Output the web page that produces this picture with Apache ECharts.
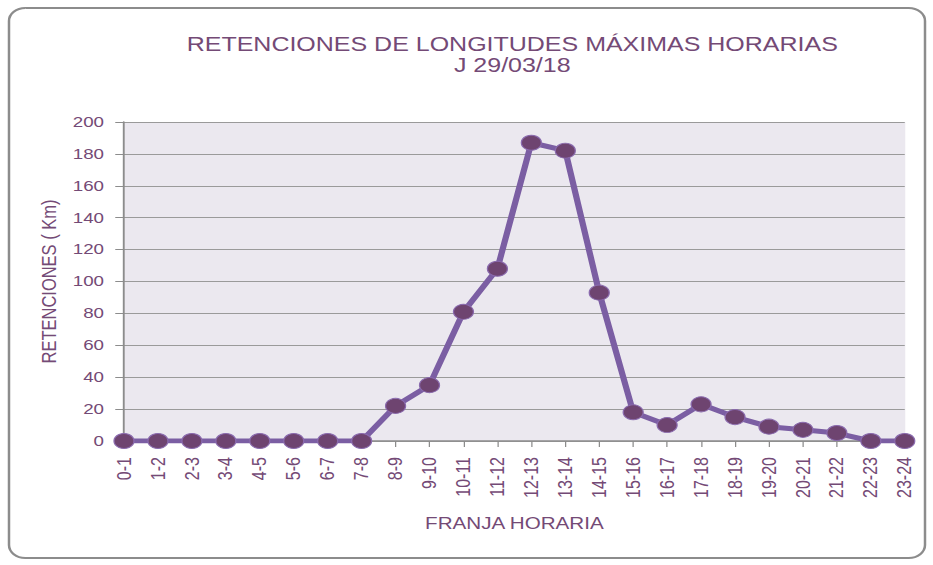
<!DOCTYPE html>
<html><head><meta charset="utf-8">
<script src="https://cdn.jsdelivr.net/npm/echarts@6/dist/echarts.min.js"></script>
<style>
html,body{margin:0;padding:0;background:#fff;overflow:hidden;width:933px;height:565px}
#c{width:746.4px;height:565px;transform:scaleX(1.25);transform-origin:0 0}
</style>
</head><body><div id="c"></div>
<script>
const categories = ['0-1','1-2','2-3','3-4','4-5','5-6','6-7','7-8','8-9','9-10','10-11','11-12','12-13','13-14','14-15','15-16','16-17','17-18','18-19','19-20','20-21','21-22','22-23','23-24'];
const retenciones = [0,0,0,0,0,0,0,0,22,35,81,108,187,182,93,18,10,23,15,9,7,5,0,0];
const titleLines = ['RETENCIONES DE LONGITUDES MÁXIMAS HORARIAS','J 29/03/18'];
const yAxisName = 'RETENCIONES ( Km)';
const xAxisName = 'FRANJA HORARIA';

const txt = '#744a76';
const font = 'Liberation Sans, Arial, sans-serif';
const chart = echarts.init(document.getElementById('c'), null, {renderer:'svg'});
chart.setOption({
  backgroundColor:'#fff',
  animation:false,
  graphic:[
    {type:'rect', shape:{x:7.2,y:8,width:732.8,height:550,r:13}, style:{fill:'none',stroke:'#8c8c8c',lineWidth:2}, z:-1},
    {type:'rect', shape:{x:99.2,y:122,width:625,height:319}, style:{fill:'#ebe8ef'}, z:-1}
  ],
  title:{
    text: titleLines.join('\n'),
    left: 404.8, top: 29, textAlign:'center',
    textStyle:{color:txt, fontSize:20, fontWeight:'normal', fontFamily:font, lineHeight:21}
  },
  grid:{left:99.2, right:22.2, top:122, bottom:124, containLabel:false},
  xAxis:{
    type:'category', data:categories, boundaryGap:false,
    name:xAxisName, nameLocation:'middle', nameGap:74,
    nameTextStyle:{color:txt, fontSize:16.5, fontFamily:font},
    axisLine:{lineStyle:{color:'#8c8c8c', width:1.5}},
    axisTick:{show:true, length:6, alignWithLabel:true, lineStyle:{color:'#8c8c8c'}},
    axisLabel:{rotate:90, interval:0, color:txt, fontSize:16, fontFamily:font, margin:16},
    splitLine:{show:false}
  },
  yAxis:{
    type:'value', min:0, max:200, interval:20,
    name:yAxisName, nameLocation:'middle', nameGap:50, nameRotate:90,
    nameTextStyle:{color:txt, fontSize:16.5, fontFamily:font},
    axisLine:{show:true, lineStyle:{color:'#8c8c8c', width:1.5}},
    axisTick:{show:true, length:7, lineStyle:{color:'#8c8c8c'}},
    axisLabel:{color:txt, fontSize:15, fontFamily:font, margin:16},
    splitLine:{show:true, lineStyle:{color:'#9a9a9a', width:1.2}}
  },
  series:[{
    type:'line', data:retenciones,
    symbol:'circle', symbolSize:[16,15],
    lineStyle:{color:'#7b5ea3', width:5},
    itemStyle:{color:'#6e4470', borderColor:'#8a6aae', borderWidth:1},
    z:5
  }]
});
</script></body></html>
